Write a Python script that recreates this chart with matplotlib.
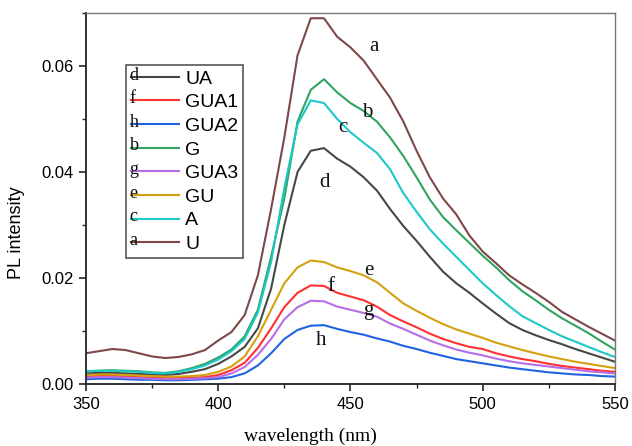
import matplotlib
matplotlib.use("Agg")
import matplotlib.pyplot as plt
from matplotlib.ticker import MultipleLocator, FormatStrFormatter

# wavelength grid (nm), read every 5 nm from the figure
wavelength = list(range(350, 555, 5))

# PL intensity
ua = [.0020, .0021, .0021, .0020, .0019, .0018, .0017, .0019, .0023, .0028,
      .0038, .0052, .0070, .0105, .0180, .0300, .0400, .0440, .0445, .0425,
      .0410, .0390, .0365, .0330, .0298, .0270, .0240, .0212, .0190, .0172,
      .0152, .0133, .0115, .0102, .0092, .0083, .0075, .0066, .0058, .0050,
      .0042]
gua1 = [.0014, .0015, .0015, .0014, .0013, .0012, .0011, .0011, .0012, .0013,
        .0017, .0026, .0040, .0068, .0105, .0145, .0172, .0186, .0185, .0172,
        .0165, .0158, .0146, .0130, .0118, .0107, .0095, .0085, .0077, .0070,
        .0066, .0058, .0052, .0047, .0043, .0038, .0034, .0031, .0028, .0025,
        .0023]
gua2 = [.0009, .0010, .0010, .0009, .0008, .0008, .0007, .0007, .0008, .0009,
        .0010, .0013, .0020, .0035, .0058, .0085, .0102, .0110, .0111, .0104,
        .0098, .0093, .0086, .0080, .0072, .0066, .0059, .0053, .0047, .0043,
        .0039, .0035, .0031, .0028, .0025, .0022, .0020, .0018, .0017, .0015,
        .0014]
g = [.0024, .0025, .0026, .0025, .0024, .0022, .0021, .0024, .0030, .0038,
     .0050, .0065, .0090, .0140, .0240, .0350, .0495, .0555, .0575, .0550,
     .0530, .0515, .0495, .0465, .0430, .0390, .0348, .0315, .0290, .0266,
     .0242, .0220, .0196, .0175, .0158, .0140, .0124, .0110, .0096, .0080,
     .0065]
gua3 = [.0012, .0013, .0013, .0012, .0011, .0010, .0009, .0009, .0010, .0011,
        .0013, .0020, .0032, .0055, .0085, .0122, .0145, .0157, .0156, .0146,
        .0140, .0134, .0127, .0114, .0104, .0093, .0082, .0073, .0065, .0059,
        .0054, .0048, .0043, .0039, .0036, .0033, .0030, .0027, .0024, .0022,
        .0020]
gu = [.0017, .0018, .0018, .0017, .0016, .0015, .0014, .0014, .0015, .0017,
      .0023, .0033, .0052, .0090, .0140, .0190, .0220, .0233, .0230, .0220,
      .0213, .0205, .0192, .0172, .0152, .0138, .0125, .0113, .0103, .0095,
      .0087, .0078, .0071, .0064, .0058, .0052, .0047, .0042, .0038, .0034,
      .0030]
a = [.0024, .0025, .0025, .0024, .0023, .0021, .0020, .0023, .0028, .0035,
     .0046, .0062, .0085, .0135, .0230, .0370, .0490, .0535, .0530, .0500,
     .0475, .0455, .0436, .0405, .0360, .0325, .0292, .0265, .0240, .0215,
     .0190, .0168, .0147, .0128, .0115, .0102, .0090, .0080, .0070, .0060,
     .0051]
u = [.0058, .0062, .0066, .0064, .0058, .0052, .0049, .0051, .0056, .0064,
     .0082, .0098, .0130, .0205, .0330, .0465, .0620, .0690, .0690, .0655,
     .0635, .0610, .0575, .0540, .0495, .0440, .0390, .0350, .0320, .0280,
     .0250, .0228, .0205, .0188, .0172, .0155, .0136, .0122, .0108, .0095,
     .0082]

labels = ['UA', 'GUA1', 'GUA2', 'G', 'GUA3', 'GU', 'A', 'U']
letters = ['d', 'f', 'h', 'b', 'g', 'e', 'c', 'a']
series = [ua, gua1, gua2, g, gua3, gu, a, u]
colors = ['#474747', '#ff3030', '#1f63e0', '#30a460', '#b66ee6',
          '#d4a010', '#1cc8c8', '#7d4848']

# letter tags placed next to the curves
tag_letters = ['a', 'b', 'c', 'd', 'e', 'f', 'g', 'h']
tag_x = [458.7, 456.4, 447.0, 440.2, 456.8, 442.5, 456.8, 438.7]
tag_y = [0.0636, 0.0513, 0.0483, 0.0381, 0.0215, 0.0183, 0.0138, 0.0083]

fig = plt.figure(figsize=(6.32, 4.46), dpi=100)
ax = fig.add_axes([0.136, 0.139, 0.837, 0.832])

for y, lab, col in zip(series, labels, colors):
    ax.plot(wavelength, y, color=col, lw=1.5, label=lab)

for t, x, y in zip(tag_letters, tag_x, tag_y):
    ax.text(x, y, t, family='Liberation Serif', fontsize=15,
            ha='center', va='center', color='#111111')

ax.set_xlim(350, 550)
ax.set_ylim(0, 0.07)
ax.xaxis.set_major_locator(MultipleLocator(50))
ax.xaxis.set_minor_locator(MultipleLocator(25))
ax.yaxis.set_major_locator(MultipleLocator(0.02))
ax.yaxis.set_minor_locator(MultipleLocator(0.01))
ax.yaxis.set_major_formatter(FormatStrFormatter('%.2f'))
ax.tick_params(which='both', direction='out', top=False, right=False,
               labelsize=12, color='#222222')
ax.tick_params(which='major', length=5, width=1.2, pad=4)
ax.tick_params(which='minor', length=3, width=1.0)
for lbl in ax.get_xticklabels() + ax.get_yticklabels():
    lbl.set_family('Liberation Sans')
for side in ['left', 'bottom']:
    ax.spines[side].set_linewidth(1.3)
    ax.spines[side].set_color('#222222')
for side in ['top', 'right']:
    ax.spines[side].set_linewidth(1.0)
    ax.spines[side].set_color('#777777')

ax.set_ylabel('PL intensity', family='Liberation Sans', fontsize=13)
ax.yaxis.set_label_coords(-0.115, 0.407)
ax.set_xlabel('wavelength (nm)', family='Liberation Serif', fontsize=14)
ax.xaxis.set_label_coords(0.425, -0.118)

leg = ax.legend(loc='lower left', bbox_to_anchor=(0.0756, 0.3396),
                borderaxespad=0, fancybox=False, edgecolor='#555555',
                framealpha=1, prop={'family': 'Liberation Sans', 'size': 14},
                handlelength=2.5, handletextpad=0.3, labelspacing=0.31,
                borderpad=0.25)
leg.get_frame().set_linewidth(1.2)

# letters drawn over the start of each legend handle
fig.canvas.draw()
renderer = fig.canvas.get_renderer()
for h, let in zip(leg.legend_handles, letters):
    bb = h.get_window_extent(renderer)
    x0, y0 = fig.transFigure.inverted().transform((bb.x0, (bb.y0 + bb.y1) / 2))
    fig.text(x0 - 0.002, y0 + 0.004, let, family='Liberation Serif',
             fontsize=13, ha='left', va='center', color='#111111')

fig.savefig('out.png', dpi=100)
